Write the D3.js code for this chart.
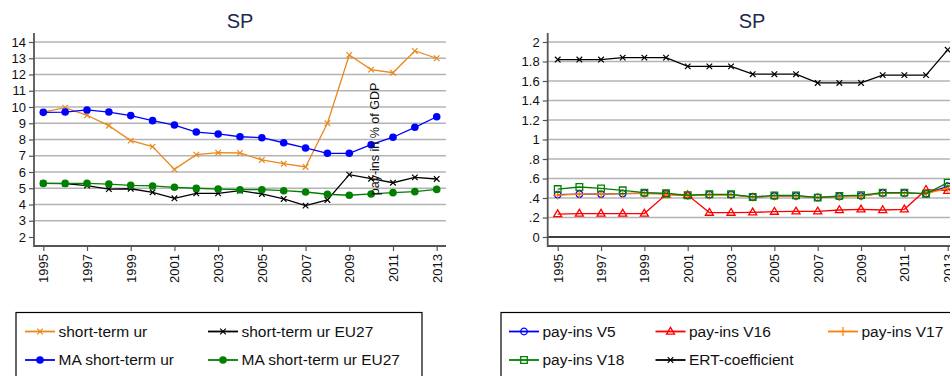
<!DOCTYPE html>
<html><head><meta charset="utf-8">
<script src="https://cdn.jsdelivr.net/npm/d3@7"></script>
<style>body{margin:0;background:#fff}svg{display:block;font-family:"Liberation Sans",Arial,sans-serif}</style>
</head><body><svg id="c" width="950" height="376"></svg>
<script>
const years = d3.range(1995, 2014);
const xTickYears = [1995,1997,1999,2001,2003,2005,2007,2009,2011,2013];

// Left panel series
const shortTermUr     = [9.69,9.96,9.49,8.85,7.93,7.56,6.16,7.07,7.19,7.17,6.74,6.51,6.31,9.0,13.2,12.3,12.11,13.45,13.0];
const shortTermUrEU27 = [5.30,5.28,5.16,4.95,4.97,4.75,4.38,4.69,4.69,4.85,4.65,4.34,3.93,4.28,5.84,5.59,5.34,5.67,5.57];
const maShortTermUr   = [9.67,9.69,9.82,9.69,9.47,9.16,8.89,8.46,8.34,8.17,8.11,7.80,7.48,7.15,7.15,7.68,8.14,8.75,9.40];
const maShortTermUrEU27 = [5.30,5.30,5.30,5.26,5.18,5.14,5.06,5.00,4.95,4.91,4.91,4.85,4.77,4.63,4.57,4.65,4.73,4.79,4.93];
const leftYTicks = [2,3,4,5,6,7,8,9,10,11,12,13,14];
const leftYTickLabels = ["2","3","4","5","6","7","8","9","10","11","12","13","14"];
const leftGridTicks = [3,4,5,6,7,8,9,10,11,12,13,14];

// Right panel series
const payInsV5  = [0.435,0.44,0.44,0.445,0.45,0.445,0.425,0.435,0.435,0.41,0.42,0.42,0.405,0.415,0.42,0.45,0.45,0.445,0.52];
const payInsV16 = [0.235,0.24,0.24,0.24,0.24,0.435,0.43,0.25,0.25,0.253,0.26,0.263,0.263,0.277,0.284,0.277,0.284,0.485,0.475];
const payInsV17 = [0.43,0.44,0.44,0.445,0.445,0.44,0.425,0.43,0.43,0.41,0.42,0.42,0.405,0.415,0.42,0.45,0.45,0.445,0.50];
const payInsV18 = [0.492,0.513,0.499,0.479,0.455,0.448,0.428,0.438,0.438,0.411,0.426,0.427,0.404,0.422,0.429,0.455,0.455,0.443,0.557];
const ertCoefficient = [1.82,1.82,1.82,1.84,1.84,1.84,1.75,1.75,1.75,1.67,1.67,1.67,1.58,1.58,1.58,1.66,1.66,1.66,1.92];
const rightYTicks = [0,0.2,0.4,0.6,0.8,1,1.2,1.4,1.6,1.8,2];
const rightYTickLabels = ["0",".2",".4",".6",".8","1","1.2","1.4","1.6","1.8","2"];

const titles = ["SP","SP"];
const strayTitle = "pay-ins in % of GDP";

const svg = d3.select("#c");
const GRID = "#b4b4b4", AX = "#555";

const mk = {
  x: "M-2.8,-2.8L2.8,2.8M-2.8,2.8L2.8,-2.8",
  plus: "M-4.5,0H4.5M0,-4.5V4.5",
  tri: "M0,-4.2L4,2.6L-4,2.6Z",
  sq: "M-3.3,-3.3H3.3V3.3H-3.3Z"
};

function panel(cfg){
  const g = svg.append("g");
  const x = d3.scaleLinear().domain([1995,2013]).range(cfg.xr);
  const y = d3.scaleLinear().domain(cfg.yd).range([237,42]);
  g.selectAll(".grid").data(cfg.grid).join("line")
    .attr("x1", cfg.ax).attr("x2", cfg.right)
    .attr("y1", d=>y(d)).attr("y2", d=>y(d))
    .attr("stroke", d=> (cfg.zeroBlack && d===0) ? "#000" : GRID).attr("stroke-width",1.4);
  const ya = d3.axisLeft(y).tickValues(cfg.yt).tickFormat((d,i)=>cfg.ytl[i]).tickSize(5).tickPadding(3).tickSizeOuter(0);
  const yg = g.append("g").attr("transform",`translate(${cfg.ax},0)`).call(ya);
  yg.select(".domain").remove();
  yg.selectAll("line").attr("stroke",AX).attr("stroke-width",1.2);
  yg.selectAll("text").attr("font-size",13).attr("fill","#111").attr("font-family","Liberation Sans, Arial, sans-serif");
  g.append("line").attr("x1",cfg.ax).attr("x2",cfg.ax).attr("y1",33).attr("y2",247).attr("stroke",AX).attr("stroke-width",1.8);
  const xa = d3.axisBottom(x).tickValues(xTickYears).tickFormat(d3.format("d")).tickSize(5).tickSizeOuter(0);
  const xg = g.append("g").attr("transform","translate(0,246)").call(xa);
  xg.select(".domain").remove();
  xg.selectAll("line").attr("stroke",AX).attr("stroke-width",1.2);
  xg.selectAll("text").attr("font-size",13).attr("fill","#111").attr("font-family","Liberation Sans, Arial, sans-serif")
    .attr("transform","rotate(-90)").attr("text-anchor","end").attr("x",-8).attr("y",0).attr("dy","0.35em");
  g.append("line").attr("x1",cfg.ax).attr("x2",cfg.right).attr("y1",246).attr("y2",246).attr("stroke",AX).attr("stroke-width",1.8);
  g.append("text").attr("x",cfg.tx).attr("y",28).attr("text-anchor","middle").attr("font-size",20).attr("fill","#1c2a4c").text(cfg.title);
  const line = d3.line().x((d,i)=>x(years[i])).y(d=>y(d));
  cfg.series.forEach(s=>{
    g.append("path").attr("d",line(s.v)).attr("fill","none").attr("stroke",s.c).attr("stroke-width",1.3);
    const pts = g.append("g").selectAll("g").data(s.v).join("g").attr("transform",(d,i)=>`translate(${x(years[i])},${y(d)})`);
    drawMarker(pts, s);
  });
  const lg = svg.append("g");
  lg.append("rect").attr("x",cfg.lx).attr("y",312.5).attr("width",cfg.lw).attr("height",80).attr("fill","none").attr("stroke","#000").attr("stroke-width",1.2);
  cfg.series.forEach(s=>{
    const it = lg.append("g").attr("transform",`translate(${s.lp[0]},${s.lp[1]})`);
    it.append("line").attr("x1",0).attr("x2",30).attr("stroke",s.c).attr("stroke-width",1.8);
    drawMarker(it.append("g").attr("transform","translate(15,0)"), s);
    it.append("text").attr("x",33.5).attr("dy","0.35em").attr("font-size",15.5).attr("fill","#111").text(s.name);
  });
  return {x,y,g};
}
function drawMarker(sel, s){
  if (s.m === "dot") sel.append("circle").attr("r",3.8).attr("fill",s.c);
  else if (s.m === "ocirc") sel.append("circle").attr("r",3.3).attr("fill","none").attr("stroke",s.c).attr("stroke-width",1.3);
  else if (s.m === "tri" || s.m === "sq") sel.append("path").attr("d",mk[s.m]).attr("fill","none").attr("stroke",s.c).attr("stroke-width",1.3);
  else sel.append("path").attr("d",mk[s.m]).attr("fill","none").attr("stroke",s.c).attr("stroke-width",1.2);
}

panel({
  xr:[43.3,436.7], ax:34, right:446, yd:[2,14], yt:leftYTicks, ytl:leftYTickLabels, grid:leftGridTicks,
  tx:240, title:titles[0], lx:16, lw:406,
  series:[
    {v:shortTermUr, c:"#e8891c", m:"x", name:"short-term ur", lp:[25,331.5]},
    {v:shortTermUrEU27, c:"#000", m:"x", name:"short-term ur EU27", lp:[208,331.5]},
    {v:maShortTermUr, c:"#0000ff", m:"dot", name:"MA short-term ur", lp:[25,360]},
    {v:maShortTermUrEU27, c:"#008000", m:"dot", name:"MA short-term ur EU27", lp:[208,360]}
  ]
});
panel({
  xr:[557.7,947.7], ax:547.7, right:960, yd:[0,2], yt:rightYTicks, ytl:rightYTickLabels, grid:rightYTicks, zeroBlack:true,
  tx:752, title:titles[1], lx:501, lw:470,
  series:[
    {v:payInsV5, c:"#0000ff", m:"ocirc", name:"pay-ins V5", lp:[509,331.5]},
    {v:payInsV16, c:"#ff0000", m:"tri", name:"pay-ins V16", lp:[655.5,331.5]},
    {v:payInsV17, c:"#ff8000", m:"plus", name:"pay-ins V17", lp:[828,331.5]},
    {v:payInsV18, c:"#008000", m:"sq", name:"pay-ins V18", lp:[509,360]},
    {v:ertCoefficient, c:"#000", m:"x", name:"ERT-coefficient", lp:[655.5,360]}
  ]
});
svg.append("text").attr("transform","translate(379,139) rotate(-90)").attr("text-anchor","middle")
  .attr("font-size",12.5).attr("fill","#111").text(strayTitle);
</script></body></html>
